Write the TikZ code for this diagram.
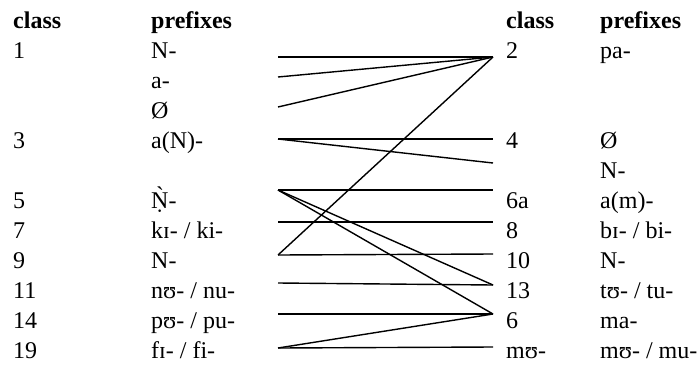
\documentclass[tikz,border=0pt]{standalone}
\usepackage{fontspec}
\setmainfont{Liberation Serif}
\usetikzlibrary{math}
\newcommand\Ngrave{\makebox[0pt][l]{\hspace{.2em}\raisebox{.2em}{^^^^02cb}}^^^^1e46}

\begin{document}
\begin{tikzpicture}[x=1pt,y=-1pt,
txt/.style={anchor=base west,inner sep=0,font=\fontsize{24}{28}\selectfont},
head/.style={txt,font=\fontsize{24}{28}\selectfont\bfseries},
link/.style={line width=1.4}]
\tikzmath{
\xa=13; \xb=151; \xc=506; \xd=600; \xl=278; \xr=493;
}
\useasboundingbox (0,0) rectangle (700,364);

\node[head] (hcl) at (\xa,28) {class};
\node[head] (hpl) at (\xb,28) {prefixes};
\node[head] (hcr) at (\xc,28) {class};
\node[head] (hpr) at (\xd,28) {prefixes};

\foreach \y/\c/\p/\n in {58/1/N-/1, 88//a-/2, 118//Ø/3, 148/3/a(N)-/4, 208/5/{\Ngrave-}/5,
238/7/{kɪ- / ki-}/6, 268/9/N-/7, 298/11/{nʊ- / nu-}/8, 328/14/{pʊ- / pu-}/9, 358/19/{fɪ- / fi-}/10}{
\node[txt] (cl\n) at (\xa,\y) {\c};
\node[txt] (pl\n) at (\xb,\y) {\p};
}
\foreach \y/\c/\p/\n in {58/2/pa-/1, 148/4/Ø/2, 178//N-/3, 208/6a/a(m)-/4, 238/8/{bɪ- / bi-}/5,
268/10/N-/6, 298/13/{tʊ- / tu-}/7, 328/6/ma-/8, 358/mʊ-/{mʊ- / mu-}/9}{
\node[txt] (cr\n) at (\xc,\y) {\c};
\node[txt] (pr\n) at (\xd,\y) {\p};
}

\foreach \y [count=\i] in {57,77,107,139,190,222,255,283,314,348}{
\coordinate (a\i) at (\xl,\y);
}
\foreach \y [count=\i] in {57,139,163,190,222,254,285,314,347}{
\coordinate (b\i) at (\xr,\y);
}

\foreach \s/\t in {a1/b1,a2/b1,a3/b1,a4/b2,a4/b3,a7/b1,a5/b4,a5/b7,a5/b8,
a6/b5,a7/b6,a8/b7,a9/b8,a10/b8,a10/b9}{
\draw[link] (\s) -- (\t);
}

\end{tikzpicture}
\end{document}
